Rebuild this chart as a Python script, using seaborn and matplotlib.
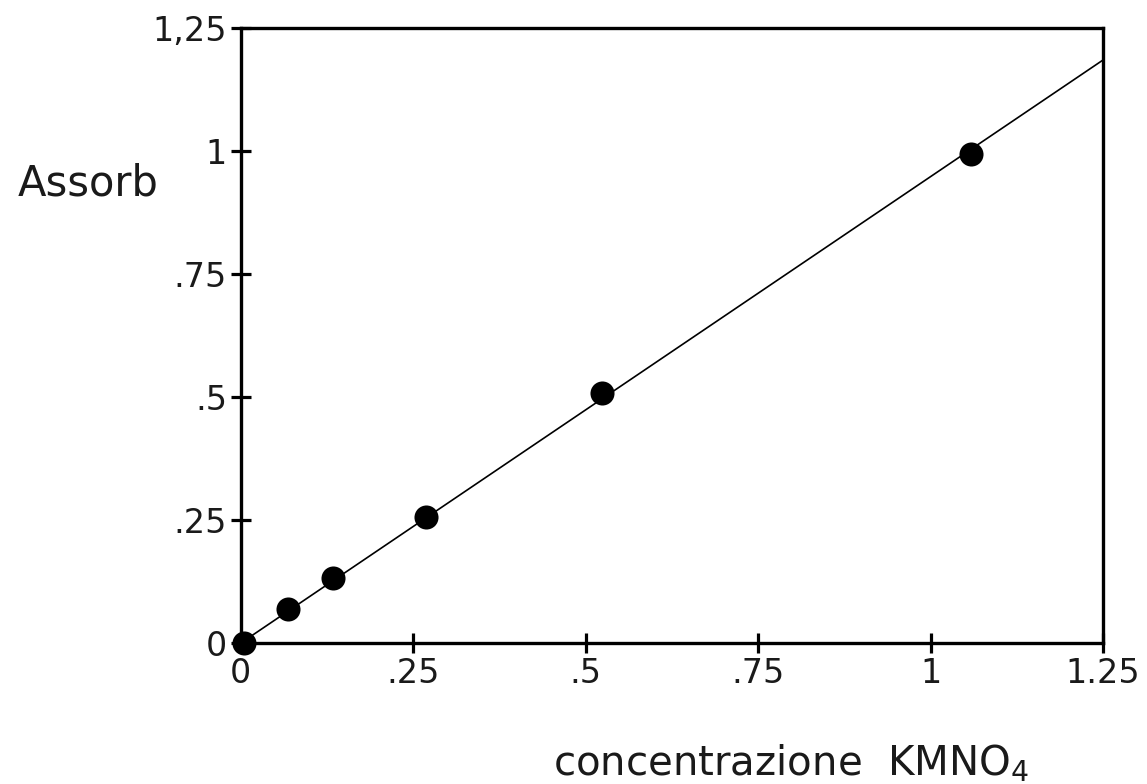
import matplotlib
matplotlib.use("Agg")
import matplotlib.pyplot as plt
import seaborn as sns
import pandas as pd

# measured points (concentration vs absorbance)
conc = [0.005, 0.068, 0.133, 0.268, 0.523, 1.059]
absorb = [0.0, 0.069, 0.132, 0.256, 0.508, 0.994]

# calibration line endpoints
fit_conc = [0.0, 1.25]
fit_absorb = [0.0, 1.185]

xticks = [0, 0.25, 0.5, 0.75, 1, 1.25]
xtick_labels = ["0", ".25", ".5", ".75", "1", "1.25"]
yticks = [0, 0.25, 0.5, 0.75, 1, 1.25]
ytick_labels = ["0", ".25", ".5", ".75", "1", "1,25"]

sns.set_theme(style="white")
plt.rcParams["font.family"] = ["DejaVu Sans"]

points = pd.DataFrame({"conc": conc, "absorb": absorb})
fit = pd.DataFrame({"conc": fit_conc, "absorb": fit_absorb})

fig = plt.figure(figsize=(11.47, 7.84), dpi=100)
ax = fig.add_axes([0.210, 0.1798, 0.7517, 0.7845])

sns.lineplot(data=fit, x="conc", y="absorb", color="black", linewidth=1.2, ax=ax)
sns.scatterplot(data=points, x="conc", y="absorb", color="black", s=300,
                edgecolor="black", linewidth=0, clip_on=False, zorder=5, ax=ax)

ax.set_xlim(0, 1.25)
ax.set_ylim(0, 1.25)
ax.set_xticks(xticks)
ax.set_xticklabels(xtick_labels)
ax.set_yticks(yticks)
ax.set_yticklabels(ytick_labels)
ax.tick_params(bottom=True, left=True, direction="inout", length=15, width=2.3,
               color="black", labelsize=24, labelcolor="#1a1a1a", pad=2.5)

for side in ["left", "bottom", "top", "right"]:
    ax.spines[side].set_visible(True)
    ax.spines[side].set_color("black")
    ax.spines[side].set_linewidth(2.4)

# axis titles, placed where the reference has them
ax.set_ylabel("Assorb", rotation=0, fontsize=30, color="#1a1a1a")
ax.yaxis.label.set_ha("center")
ax.yaxis.label.set_va("baseline")
ax.yaxis.set_label_coords(-0.1775, 0.728)

ax.set_xlabel("concentrazione  KMNO$_4$", fontsize=29, color="#1a1a1a")
ax.xaxis.label.set_va("baseline")
ax.xaxis.set_label_coords(0.638, -0.2146)

fig.savefig("out.png", dpi=100)
